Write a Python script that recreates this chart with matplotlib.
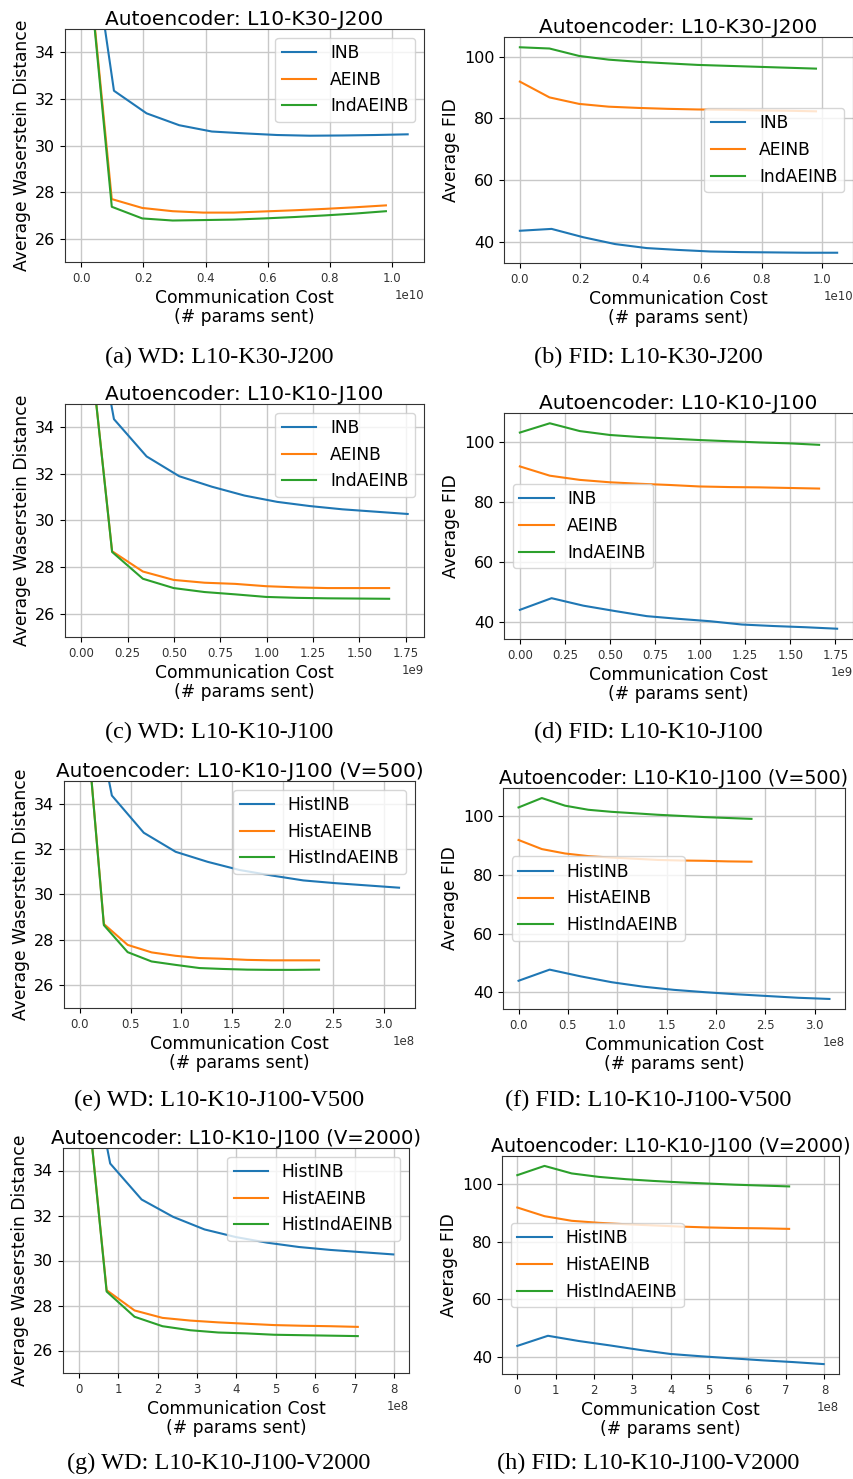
import matplotlib
matplotlib.use("Agg")
import matplotlib.pyplot as plt

# ---- data (x in # params sent) ----
# (a)/(b) L10-K30-J200
x_inb_a = [0, 0.105e10, 0.21e10, 0.315e10, 0.42e10, 0.525e10, 0.63e10, 0.735e10, 0.84e10, 0.945e10, 1.05e10]
x_ae_a = [0, 0.098e10, 0.196e10, 0.294e10, 0.392e10, 0.49e10, 0.588e10, 0.686e10, 0.784e10, 0.882e10, 0.98e10]
wd_inb_a = [42.0, 32.35, 31.38, 30.87, 30.6, 30.52, 30.45, 30.42, 30.43, 30.45, 30.48]
wd_ae_a = [41.0, 27.7, 27.32, 27.18, 27.12, 27.12, 27.17, 27.22, 27.28, 27.35, 27.43]
wd_ind_a = [41.0, 27.37, 26.87, 26.78, 26.8, 26.82, 26.87, 26.93, 27.0, 27.08, 27.18]
fid_inb_a = [43.7, 44.3, 41.6, 39.4, 38.1, 37.5, 37.0, 36.8, 36.7, 36.6, 36.6]
fid_ae_a = [91.9, 86.8, 84.7, 83.8, 83.4, 83.1, 82.9, 82.8, 82.6, 82.5, 82.3]
fid_ind_a = [103.0, 102.6, 100.2, 99.0, 98.3, 97.8, 97.3, 97.0, 96.7, 96.4, 96.1]

# (c)/(d) L10-K10-J100
x_inb_c = [0, 0.176e9, 0.352e9, 0.528e9, 0.704e9, 0.88e9, 1.056e9, 1.232e9, 1.408e9, 1.584e9, 1.76e9]
x_ae_c = [0, 0.166e9, 0.332e9, 0.498e9, 0.664e9, 0.83e9, 0.996e9, 1.162e9, 1.328e9, 1.494e9, 1.66e9]
wd_inb_c = [42.0, 34.35, 32.75, 31.9, 31.45, 31.07, 30.8, 30.62, 30.48, 30.38, 30.28]
wd_ae_c = [41.0, 28.68, 27.81, 27.45, 27.33, 27.28, 27.18, 27.13, 27.1, 27.1, 27.1]
wd_ind_c = [41.0, 28.65, 27.5, 27.1, 26.93, 26.83, 26.72, 26.68, 26.66, 26.65, 26.64]
fid_inb_c = [43.9, 47.8, 45.3, 43.5, 41.8, 40.9, 40.1, 39.0, 38.5, 38.1, 37.6]
fid_ae_c = [91.8, 88.7, 87.3, 86.5, 86.0, 85.6, 85.1, 84.9, 84.8, 84.6, 84.4]
fid_ind_c = [103.1, 106.2, 103.6, 102.3, 101.6, 101.1, 100.6, 100.2, 99.8, 99.5, 99.0]

# (e)/(f) L10-K10-J100, V=500
x_inb_e = [0, 0.315e8, 0.63e8, 0.945e8, 1.26e8, 1.575e8, 1.89e8, 2.205e8, 2.52e8, 2.835e8, 3.15e8]
x_ae_e = [0, 0.236e8, 0.471e8, 0.707e8, 0.943e8, 1.18e8, 1.41e8, 1.65e8, 1.89e8, 2.12e8, 2.36e8]
wd_inb_e = [41.5, 34.36, 32.72, 31.88, 31.44, 31.08, 30.84, 30.62, 30.5, 30.4, 30.3]
wd_ae_e = [41.0, 28.7, 27.78, 27.45, 27.3, 27.2, 27.17, 27.12, 27.1, 27.1, 27.1]
wd_ind_e = [41.0, 28.65, 27.46, 27.05, 26.9, 26.76, 26.72, 26.69, 26.68, 26.68, 26.69]
fid_inb_e = [43.9, 47.7, 45.4, 43.4, 41.9, 40.8, 40.0, 39.3, 38.7, 38.1, 37.7]
fid_ae_e = [91.9, 88.8, 87.3, 86.4, 85.9, 85.5, 85.1, 84.9, 84.8, 84.6, 84.5]
fid_ind_e = [103.0, 106.2, 103.6, 102.2, 101.5, 101.0, 100.5, 100.1, 99.7, 99.4, 99.1]

# (g)/(h) L10-K10-J100, V=2000
x_inb_g = [0, 0.798e8, 1.596e8, 2.394e8, 3.192e8, 3.99e8, 4.788e8, 5.586e8, 6.384e8, 7.182e8, 7.98e8]
x_ae_g = [0, 0.708e8, 1.416e8, 2.124e8, 2.832e8, 3.54e8, 4.248e8, 4.956e8, 5.664e8, 6.372e8, 7.08e8]
wd_inb_g = [41.5, 34.31, 32.71, 31.94, 31.38, 31.04, 30.79, 30.6, 30.47, 30.37, 30.27]
wd_ae_g = [41.0, 28.68, 27.78, 27.45, 27.33, 27.25, 27.19, 27.13, 27.1, 27.08, 27.05]
wd_ind_g = [41.0, 28.62, 27.5, 27.08, 26.9, 26.8, 26.76, 26.7, 26.68, 26.66, 26.64]
fid_inb_g = [43.9, 47.4, 45.6, 44.1, 42.5, 41.1, 40.3, 39.6, 38.9, 38.3, 37.6]
fid_ae_g = [91.8, 88.8, 87.2, 86.5, 86.0, 85.6, 85.2, 84.9, 84.7, 84.6, 84.4]
fid_ind_g = [103.0, 106.2, 103.6, 102.4, 101.6, 101.0, 100.5, 100.1, 99.7, 99.4, 99.1]

names = ["INB", "AEINB", "IndAEINB"]
hist_names = ["HistINB", "HistAEINB", "HistIndAEINB"]
titles = ["Autoencoder: L10-K30-J200", "Autoencoder: L10-K10-J100",
          "Autoencoder: L10-K10-J100 (V=500)", "Autoencoder: L10-K10-J100 (V=2000)"]
captions = [("(a) WD: L10-K30-J200", "(b) FID: L10-K30-J200"),
            ("(c) WD: L10-K10-J100", "(d) FID: L10-K10-J100"),
            ("(e) WD: L10-K10-J100-V500", "(f) FID: L10-K10-J100-V500"),
            ("(g) WD: L10-K10-J100-V2000", "(h) FID: L10-K10-J100-V2000")]

W, H = 854, 1479
fig = plt.figure(figsize=(W / 100, H / 100), dpi=100)


def rect(l, t, r, b):
    return [l / W, 1 - b / H, (r - l) / W, (b - t) / H]


def style(ax, title, ylabel, tsize):
    ax.grid(True, color="#c8c8c8", linewidth=1.0)
    ax.set_axisbelow(True)
    for s in ax.spines.values():
        s.set_color("#333333")
    ax.set_title(title, fontsize=tsize, pad=3)
    ax.set_ylabel(ylabel, fontsize=12.3, labelpad=3)
    ax.set_xlabel("Communication Cost\n(# params sent)", fontsize=12.3, labelpad=3,
                  linespacing=1.05)
    ax.tick_params(axis="y", labelsize=11.5)
    ax.tick_params(axis="x", labelsize=8.5, labelcolor="#333333")
    ax.xaxis.get_offset_text().set_fontsize(8.5)


panels = [
    (x_inb_a, x_ae_a, wd_inb_a, wd_ae_a, wd_ind_a, fid_inb_a, fid_ae_a, fid_ind_a, names, "center right"),
    (x_inb_c, x_ae_c, wd_inb_c, wd_ae_c, wd_ind_c, fid_inb_c, fid_ae_c, fid_ind_c, names, "center left"),
    (x_inb_e, x_ae_e, wd_inb_e, wd_ae_e, wd_ind_e, fid_inb_e, fid_ae_e, fid_ind_e, hist_names, "center left"),
    (x_inb_g, x_ae_g, wd_inb_g, wd_ae_g, wd_ind_g, fid_inb_g, fid_ae_g, fid_ind_g, hist_names, "center left"),
]

left_rects = [(65, 29, 424, 262), (65, 404, 424, 637), (64, 781, 415, 1008), (63, 1148, 409, 1373)]
right_rects = [(504, 37, 853, 263), (504, 413, 853, 639), (503, 788, 845, 1009), (502, 1156, 839, 1374)]
left_tsize = [14.5, 14.5, 14.4, 14.1]
right_tsize = [14.5, 14.5, 13.8, 13.7]
caption_y = [357, 732, 1100, 1463]

for i, p in enumerate(panels):
    xi, xa, wi, wa, wn, fi, fa, fn, labs, floc = p

    ax = fig.add_axes(rect(*left_rects[i]))
    ax.plot(xi, wi, label=labs[0])
    ax.plot(xa, wa, label=labs[1])
    ax.plot(xa, wn, label=labs[2])
    ax.set_ylim(25, 35)
    ax.set_yticks([26, 28, 30, 32, 34])
    style(ax, titles[i], "Average Waserstein Distance", left_tsize[i])
    ax.legend(loc="upper right", fontsize=12.3)

    ax2 = fig.add_axes(rect(*right_rects[i]))
    ax2.plot(xi, fi, label=labs[0])
    ax2.plot(xa, fa, label=labs[1])
    ax2.plot(xa, fn, label=labs[2])
    ax2.set_yticks([40, 60, 80, 100])
    style(ax2, titles[i], "Average FID", right_tsize[i])
    ax2.legend(loc=floc, fontsize=12.3)

    fig.text(219 / W, 1 - caption_y[i] / H, captions[i][0], ha="center", va="center",
             fontsize=17.5, family="Liberation Serif")
    fig.text(648 / W, 1 - caption_y[i] / H, captions[i][1], ha="center", va="center",
             fontsize=17.5, family="Liberation Serif")

fig.savefig("out.png", dpi=100)
